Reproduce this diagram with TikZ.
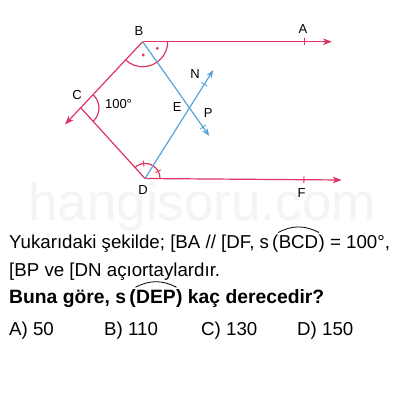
\documentclass[tikz,border=0pt]{standalone}
\usepackage{fontspec}
\setmainfont{Liberation Sans}
\usetikzlibrary{arrows.meta,angles,calc}
\definecolor{pinkred}{RGB}{222,52,98}
\definecolor{skyblue}{RGB}{88,163,218}
\definecolor{wmark}{RGB}{244,244,244}
\tikzset{
  redline/.style={draw=pinkred, line width=1.2pt},
  blueline/.style={draw=skyblue, line width=1.2pt},
  redarrow/.style={redline, -{Stealth[length=9pt,width=6.5pt,inset=2.5pt]}},
  bluearrow/.style={blueline, -{Stealth[length=8pt,width=6pt,inset=2.5pt]}},
  lbl/.style={inner sep=0pt, font=\fontsize{13}{15}\selectfont},
  txt/.style={inner sep=0pt, anchor=base west, font=\fontsize{18.7}{21}\selectfont},
  btxt/.style={inner sep=0pt, anchor=base west, font=\fontsize{19.3}{21}\selectfont\bfseries},
  hatarc/.style={draw=black, line width=0.8pt},
}
\begin{document}
\begin{tikzpicture}[x=1pt,y=-1pt]
\useasboundingbox (0,0) rectangle (402,402);
\fill[white] (0,0) rectangle (402,402);
% watermark
\node[inner sep=0pt, anchor=base west, text=wmark, font=\fontsize{53}{60}\selectfont] (wm) at (28,220) {hangisoru.com};
% points
\coordinate (B) at (142.7,41.7);
\coordinate (A) at (332,41.7);
\coordinate (C) at (81,108);
\coordinate (Ct) at (65,124.5);
\coordinate (D) at (145,178.5);
\coordinate (F) at (341.7,180);
\coordinate (N) at (213.3,70);
\coordinate (P) at (209.3,136);
\coordinate (E) at (intersection of B--P and D--N);
% angle arcs
\pic[redline, angle radius=25pt] {angle = C--B--A};
\pic[redline, angle radius=18pt] {angle = D--C--B};
\pic[redline, angle radius=15pt] {angle = F--D--C};
\fill[pinkred] (157.3,48.3) circle[radius=1.6pt];
\fill[pinkred] (143.3,55) circle[radius=1.6pt];
\draw[redline, line width=0.9pt] ([shift={(29:12pt)}]D) -- ([shift={(29:18pt)}]D);
\draw[redline, line width=0.9pt] ([shift={(95:12pt)}]D) -- ([shift={(95:18pt)}]D);
% red lines
\draw[redarrow] (B) -- (A);
\draw[redarrow] (B) -- (Ct);
\draw[redline] (D) -- (C);
\draw[redarrow] (D) -- (F);
% ticks on red rays
\coordinate (ta) at (304,41.7);
\draw[redline, line width=0.9pt] ($(ta)!3.5pt!90:(A)$) -- ($(ta)!3.5pt!-90:(A)$);
\coordinate (tf) at ($(D)!0.808!(F)$);
\draw[redline, line width=0.9pt] ($(tf)!3.5pt!90:(F)$) -- ($(tf)!3.5pt!-90:(F)$);
% blue lines
\draw[bluearrow] (B) -- (P);
\draw[bluearrow] (D) -- (N);
\coordinate (tn) at ($(D)!0.868!(N)$);
\draw[blueline, line width=0.9pt] ($(tn)!3.5pt!90:(N)$) -- ($(tn)!3.5pt!-90:(N)$);
\coordinate (tp) at ($(B)!0.905!(P)$);
\draw[blueline, line width=0.9pt] ($(tp)!3.5pt!90:(P)$) -- ($(tp)!3.5pt!-90:(P)$);
% labels
\node[lbl] (lA) at (303,29) {A};
\node[lbl] (lB) at (139,31) {B};
\node[lbl] (lC) at (77,95) {C};
\node[lbl] (l100) at (118.5,104.5) {100°};
\node[lbl] (lE) at (177.3,106.7) {E};
\node[lbl] (lN) at (195,74) {N};
\node[lbl] (lP) at (208.3,113.3) {P};
\node[lbl] (lD) at (143,190) {D};
\node[lbl] (lF) at (301.7,193) {F};
% text line 1
\node[txt] (t1a) at (9,248.3) {Yukarıdaki şekilde; [BA // [DF, s\,(};
\node[txt] (t1b) at (t1a.base east) {BCD};
\node[txt] (t1c) at (t1b.base east) {) = 100°,};
\draw[hatarc] ([xshift=-0.5pt,yshift=2.5pt]t1b.north west) to[bend left=28] ([xshift=0.5pt,yshift=2.5pt]t1b.north east);
% line 2
\node[txt] (t2) at (9,276.7) {[BP ve [DN açıortaylardır.};
% line 3
\node[btxt] (t3a) at (9,303.3) {Buna göre, s\,(};
\node[btxt] (t3b) at (t3a.base east) {DEP};
\node[btxt] (t3c) at (t3b.base east) {) kaç derecedir?};
\draw[hatarc] ([xshift=-0.5pt,yshift=2.5pt]t3b.north west) to[bend left=28] ([xshift=0.5pt,yshift=2.5pt]t3b.north east);
% line 4
\node[txt] (oa) at (9,335) {A) 50};
\node[txt] (ob) at (104,335) {B) 110};
\node[txt] (oc) at (201,335) {C) 130};
\node[txt] (od) at (297,335) {D) 150};
\end{tikzpicture}
\end{document}
